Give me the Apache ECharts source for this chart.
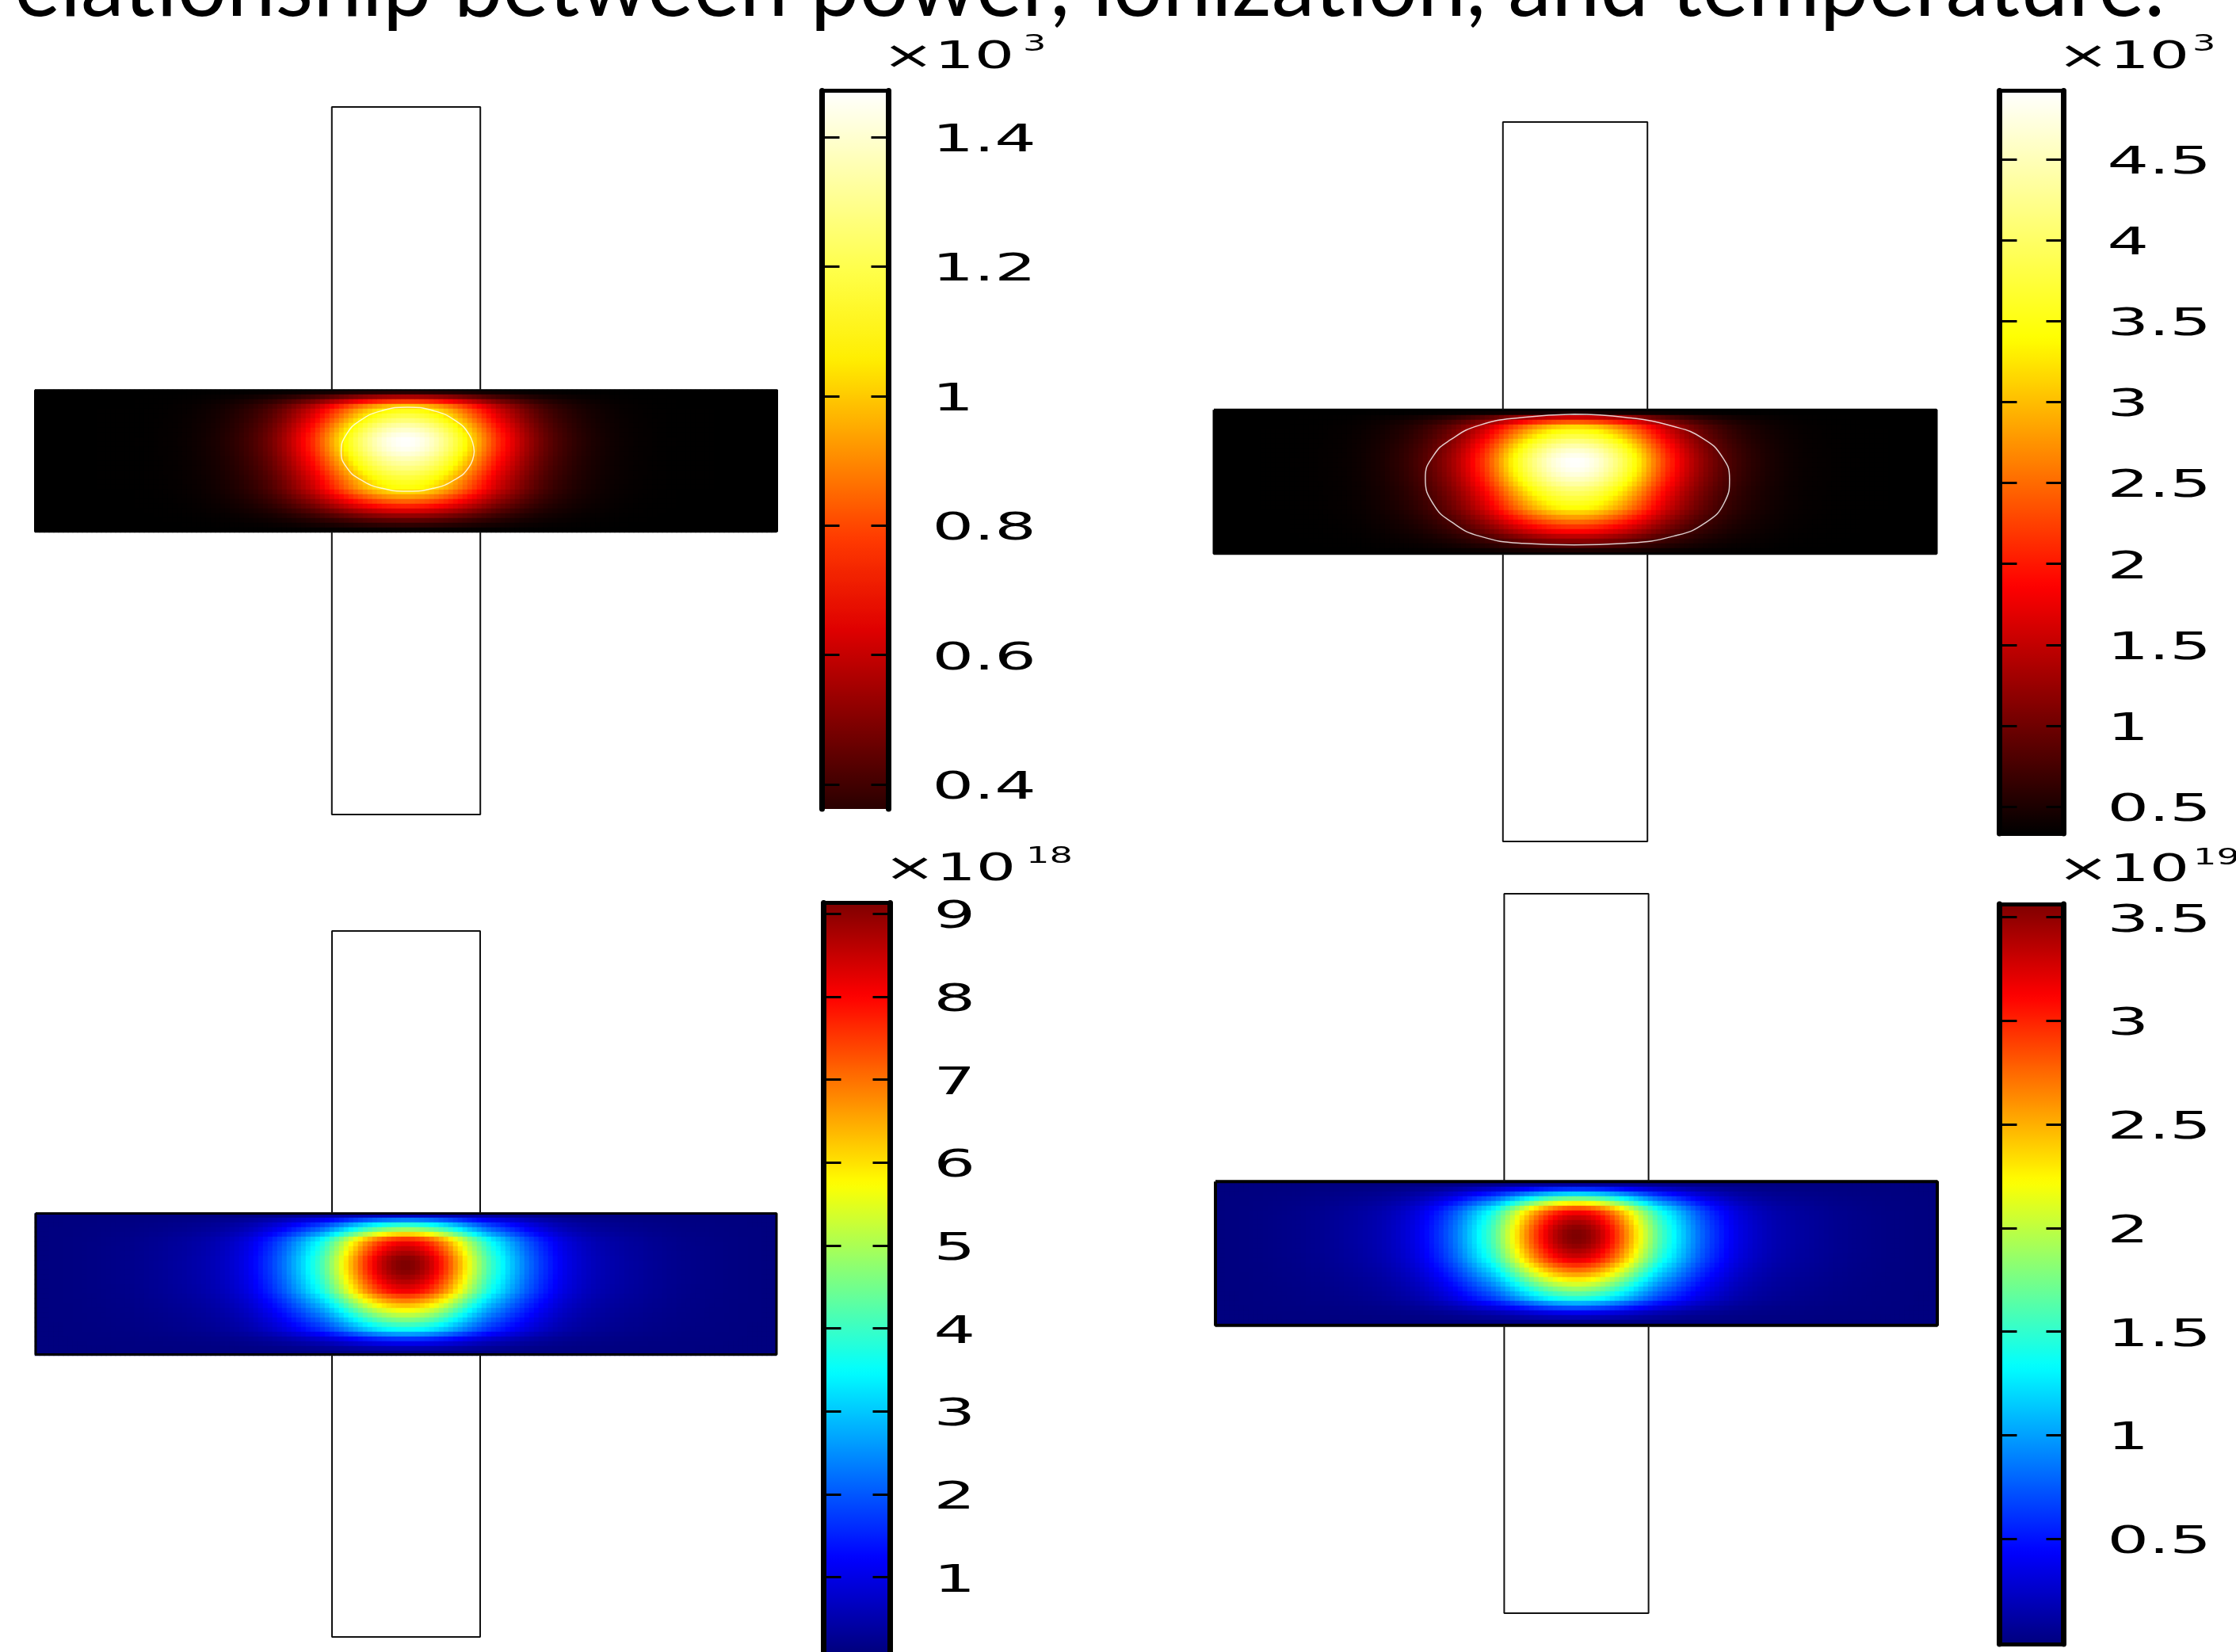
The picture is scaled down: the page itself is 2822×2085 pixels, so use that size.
<!DOCTYPE html>
<html><head><meta charset="utf-8">
<style>html,body{margin:0;padding:0;background:#fff;overflow:hidden}#c{width:2822px;height:2085px}</style>
<script src="https://cdn.jsdelivr.net/npm/echarts@6/dist/echarts.min.js"></script></head>
<body><div id="c"></div><script>
const titleText = 'elationship between power, ionization, and temperature.';

// Colour bars: tick values and labels
const ticks1 = [0.4,0.6,0.8,1,1.2,1.4];
const labels1 = ['0.4','0.6','0.8','1','1.2','1.4'];
const ticks2 = [0.5,1,1.5,2,2.5,3,3.5,4,4.5];
const labels2 = ['0.5','1','1.5','2','2.5','3','3.5','4','4.5'];
const ticks3 = [1,2,3,4,5,6,7,8,9];
const labels3 = ['1','2','3','4','5','6','7','8','9'];
const ticks4 = [0.5,1,1.5,2,2.5,3,3.5];
const labels4 = ['0.5','1','1.5','2','2.5','3','3.5'];
const exps = ['3','3','18','19'];

// Colour bar extents and base/peak of each field
const range1 = [0.362,1.4716]; const range2 = [0.334,4.923];
const range3 = [0.099,9.132];  const range4 = [-0.009,3.564];
const field1 = [0.3,1.47]; const field2 = [0.334,4.923];
const field3 = [0.099,9.132]; const field4 = [-0.009,3.564];

// Colour scales
const hot = ['#000000','#ff0000','#ffff00','#ffffff'];
const hotBar1 = ['#290000','#840000','#df0000','#ff3900','#ff9400','#ffee00','#ffff4a','#ffffa4','#ffffff'];
const jet = ['#00007f','#0000ff','#007fff','#00ffff','#7fff7f','#ffff00','#ff7f00','#ff0000','#7f0000'];

// Horizontal field profile (centre outwards, mirrored), share of peak
const profX1 = [1.00,.994,.984,.97,.951,.927,.90,.869,.835,.799,
 .76,.719,.677,.635,.592,.55,.507,.466,.426,.388,
 .36,.33,.30,.27,.242,.216,.192,.17,.15,.133,
 .118,.104,.092,.082,.072,.063,.055,.048,.042,.036,
 .031,.027,.023,.02,.017,.014,.012,.01,.008,.007,
 .006,.005,.004,.003,.003,.002,.002,.001,.001,.001,
 .001,.001,.001,.001,.001,0,0,0,0,0,
 0,0,0,0,0,0,0,0];
const profX2 = [1.00,.995,.985,.97,.952,.93,.90,.872,.84,.805,
 .768,.727,.686,.645,.60,.555,.51,.47,.43,.392,
 .365,.332,.30,.272,.245,.22,.198,.178,.16,.143,
 .127,.113,.10,.089,.079,.07,.062,.054,.048,.042,
 .036,.032,.028,.024,.02,.017,.015,.012,.01,.009,
 .008,.007,.006,.005,.004,.004,.003,.003,.002,.002,
 .001,.001,.001,.001,.001,.001,0,0,0,0,
 0,0,0,0,0,0];
const profX3 = [1,.994,.982,.966,.945,.92,.89,.855,.82,.78,
 .735,.695,.65,.605,.565,.525,.485,.45,.42,.395,
 .37,.34,.315,.29,.265,.24,.22,.20,.18,.165,
 .148,.132,.118,.106,.096,.087,.079,.071,.065,.059,
 .054,.05,.046,.043,.04,.037,.034,.032,.03,.028,
 .025,.023,.021,.02,.018,.016,.015,.013,.012,.011,
 .01,.009,.008,.007,.006,.005,.005,.004,.003,.003,
 .002,.002,.001,.001,.001,0,0,0];
const profX4 = [1,.994,.983,.966,.946,.92,.89,.857,.82,.782,
 .74,.70,.655,.612,.572,.53,.49,.455,.425,.40,
 .375,.345,.32,.292,.267,.242,.22,.20,.18,.165,
 .148,.133,.119,.107,.096,.088,.08,.072,.066,.06,
 .055,.05,.046,.043,.04,.037,.034,.032,.03,.027,
 .025,.023,.021,.019,.017,.016,.015,.013,.012,.011,
 .01,.009,.008,.007,.006,.005,.004,.004,.003,.002,
 .002,.001,.001,.001,0,0];

// Vertical field profile (top row to bottom row), share of peak
const profY1 = [.05,.22,.41,.60,.70,.76,.82,.885,.935,.975,.998,
 .995,.98,.95,.91,.875,.835,.79,.75,.71,.685,.62,.54,.46,.375,.285,.195,.12,.06,.01];
const profY2 = [.03,.27,.45,.62,.70,.76,.83,.89,.94,.975,.998,
 .995,.98,.955,.92,.88,.83,.79,.75,.71,.675,.61,.54,.47,.40,.333,.25,.18,.11,.04];
const profY3 = [.06,.25,.41,.53,.67,.82,.895,.93,.96,.99,1,
 1,.99,.97,.945,.915,.885,.815,.75,.685,.62,.56,.50,.44,.385,.28,.175,.105,.05,.015];
const profY4 = [.03,.17,.335,.49,.64,.79,.885,.93,.96,.985,.998,
 1,.995,.98,.955,.93,.89,.83,.77,.71,.645,.585,.525,.465,.405,.30,.20,.11,.055,.015];

// Geometry outline in model units: band 5x1, arms 1x5 (null breaks the path)
const bandX = [-2.5,2.5,2.5,-2.5,-2.5];
const bandY = [0.5,0.5,-0.5,-0.5,0.5];
const armsX = [-0.5,-0.5,0.5,0.5,null,-0.5,-0.5,0.5,0.5];
const armsY = [0.5,2.5,2.5,0.5,null,-0.5,-2.5,-2.5,-0.5];

// White iso-lines in the two upper panels, model units
const contourX1 = [.459,.425,.328,.183,.011,-.161,-.306,-.403,-.437,-.403,-.306,-.161,.011,.183,.328,.425,.459];
const contourY1 = [.064,.184,.286,.354,.378,.354,.286,.184,.064,-.043,-.134,-.195,-.216,-.195,-.134,-.043,.064];
const contourX2 = [-.007,.346,.682,.883,1.018,1.068,1.035,.900,.682,.346,-.007,-.359,-.661,-.846,-.980,-1.037,-.980,-.862,-.661,-.359,-.007];
const contourY2 = [.470,.448,.384,.301,.172,.017,-.139,-.286,-.378,-.428,-.439,-.428,-.378,-.286,-.158,.026,.182,.292,.393,.448,.470];

// Layout (pixels)
const panels = [
 {prof:[profX1,profY1],field:field1,range:range1,ticks:ticks1,labels:labels1,fieldColors:hot,barColors:hotBar1,
  heat:[44,492,936,180],cross:[44,135,937,893],bandWidth:2,bar:[1037.5,114.5,84,906.5],closed:false,contour:[contourX1,contourY1],
  exp:[1113,98,1291,71]},
 {prof:[profX2,profY2],field:field2,range:range2,ticks:ticks2,labels:labels2,fieldColors:hot,barColors:hot,
  heat:[1532,518,912,180],cross:[1532,154,912,908],bandWidth:3,bar:[2523.5,114.5,81,937.5],closed:true,contour:[contourX2,contourY2],
  exp:[2596,98,2767,71]},
 {prof:[profX3,profY3],field:field3,range:range3,ticks:ticks3,labels:labels3,fieldColors:jet,barColors:jet,
  heat:[44,1531,936,180],cross:[45,1175,935,891],bandWidth:3,bar:[1039.5,1139.5,84,945.5],closed:false,contour:null,
  exp:[1115,1123,1295,1096]},
 {prof:[profX4,profY4],field:field4,range:range4,ticks:ticks4,labels:labels4,fieldColors:jet,barColors:jet,
  heat:[1534,1492,912,180],cross:[1534,1128,911,908],bandWidth:4,bar:[2523.5,1141,81,934],closed:true,contour:null,
  exp:[2596,1124,2768,1098]}
];
const stretch = 1.72;
const expStretch = 1.65;
const labelFont = '48px "DejaVu Sans"';
const labelDrop = 5.5;

const grid=[],xAxis=[],yAxis=[],series=[],visualMap=[],graphic=[];
const hidden = {show:false};
panels.forEach((p,idx)=>{
  // field grid
  const gHeat = grid.length;
  grid.push({left:p.heat[0],top:p.heat[1],width:p.heat[2],height:p.heat[3],show:false});
  const cols = p.prof[0].slice().reverse().concat(p.prof[0]);
  const rows = p.prof[1];
  const xH = xAxis.length, yH = yAxis.length;
  xAxis.push({type:'category',gridIndex:gHeat,data:cols.map((_,i)=>i),show:false});
  yAxis.push({type:'category',gridIndex:gHeat,data:rows.map((_,j)=>j),inverse:true,show:false});
  const cells=[];
  cols.forEach((fx,i)=>rows.forEach((fy,j)=>cells.push([i,j,p.field[0]+(p.field[1]-p.field[0])*fx*fy])));
  const sHeat = series.length;
  series.push({type:'heatmap',xAxisIndex:xH,yAxisIndex:yH,data:cells,z:2,silent:true,progressive:0,animation:false,emphasis:{disabled:true}});
  visualMap.push({type:'continuous',show:false,seriesIndex:sHeat,dimension:2,min:p.field[0],max:p.field[1],inRange:{color:p.fieldColors}});

  // geometry grid
  const gCross = grid.length;
  grid.push({left:p.cross[0],top:p.cross[1],width:p.cross[2],height:p.cross[3],show:false});
  const xC = xAxis.length, yC = yAxis.length;
  xAxis.push({type:'value',gridIndex:gCross,min:-2.5,max:2.5,show:false});
  yAxis.push({type:'value',gridIndex:gCross,min:-2.5,max:2.5,show:false});
  const line=(xs,ys,style,z,smooth)=>series.push({type:'line',xAxisIndex:xC,yAxisIndex:yC,data:xs.map((x,i)=>[x,ys[i]]),
    symbol:'none',silent:true,clip:false,animation:false,z,smooth:smooth||false,connectNulls:false,lineStyle:style});
  line(bandX,bandY,{color:'#000',width:p.bandWidth},3);
  line(armsX,armsY,{color:'#111',width:2},3);
  if(p.contour) line(p.contour[0],p.contour[1],{color:'rgba(255,255,255,0.8)',width:1.5},4,0.5);

  // colour bar grid
  const gBar = grid.length;
  const [bl,bt,bw,bh]=p.bar;
  grid.push({left:bl,top:bt,width:bw,height:bh,show:false});
  const xB = xAxis.length;
  const frame = w=>({show:true,onZero:false,lineStyle:{color:'#000',width:w}});
  xAxis.push({type:'value',gridIndex:gBar,min:0,max:1,position:'top',z:10,axisLine:frame(5),axisTick:hidden,axisLabel:hidden,splitLine:hidden});
  xAxis.push({type:'value',gridIndex:gBar,min:0,max:1,position:'bottom',z:10,axisLine:p.closed?frame(5):hidden,axisTick:hidden,axisLabel:hidden,splitLine:hidden});
  const yB = yAxis.length;
  const yCfg = pos=>({type:'value',gridIndex:gBar,position:pos,min:p.range[0],max:p.range[1],z:10,axisLine:frame(7),
    axisTick:{show:true,inside:true,length:22,lineStyle:{color:'#000',width:3},customValues:p.ticks},
    axisLabel:hidden,splitLine:hidden});
  yAxis.push(yCfg('left'),yCfg('right'));
  visualMap.push({type:'continuous',show:true,seriesIndex:[],min:p.range[0],max:p.range[1],calculable:false,hoverLink:false,
    left:bl,top:bt,itemWidth:bw,itemHeight:bh,padding:0,text:['',''],showLabel:false,inRange:{color:p.barColors},z:4});
  // tick labels through the axis scale
  series.push({type:'custom',xAxisIndex:xB,yAxisIndex:yB,silent:true,animation:false,z:11,clip:false,
    data:p.ticks.map((t,i)=>[1,t,i]),
    renderItem:(params,api)=>{
      const c=api.coord([api.value(0),api.value(1)]);
      return {type:'text',x:c[0]+55,y:c[1]+labelDrop,scaleX:stretch,
        style:{text:p.labels[api.value(2)],font:labelFont,fill:'#000',align:'left',verticalAlign:'middle'}};
    }});
  // ×10^n
  graphic.push({type:'text',x:p.exp[0],y:p.exp[1],scaleX:expStretch,z:20,
     style:{text:'×10',font:labelFont,fill:'#000',align:'left',verticalAlign:'bottom'}});
  graphic.push({type:'text',x:p.exp[2],y:p.exp[3],scaleX:expStretch,z:20,
     style:{text:exps[idx],font:'28px "DejaVu Sans"',fill:'#000',align:'left',verticalAlign:'bottom'}});
});
graphic.push({type:'text',x:18,y:-15,scaleX:1,z:20,
  style:{text:titleText,font:'110px Lato',fill:'#000',align:'left',verticalAlign:'middle'}});

const chart = echarts.init(document.getElementById('c'),null,{renderer:'canvas',width:2822,height:2085});
chart.setOption({animation:false,backgroundColor:'#fff',grid,xAxis,yAxis,series,visualMap,graphic:{elements:graphic}});
</script></body></html>
